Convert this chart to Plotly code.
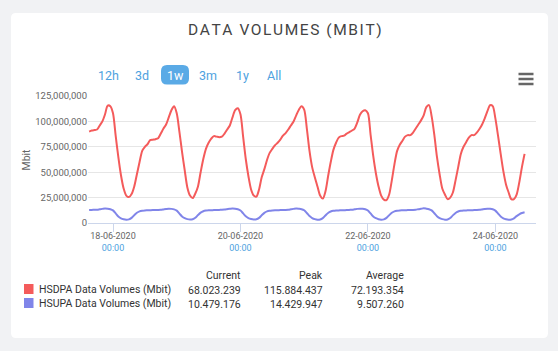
import pandas as pd
import plotly.graph_objects as go

# ---------------- data ----------------
start_time = "2020-06-17 15:00"   # first hourly sample

hsdpa_mbit_millions = [
    # 17-06 15:00-23:00
    90, 91, 91.5, 92, 96, 100, 107, 115.5, 115,
    # 18-06
    108, 86, 65, 47, 34, 27, 25.5, 28.5, 36, 48, 60, 71, 75, 77.5, 81.5, 82, 82.5, 83.5, 88, 93, 97, 104, 111, 115,
    # 19-06
    108, 90, 70, 52, 35, 27, 24.5, 29, 36, 50, 63, 73, 79, 83, 85.5, 85, 84.5, 85, 88, 92, 96, 104, 111, 113,
    # 20-06
    107, 85, 63, 46, 33, 27, 26, 33, 45, 53, 62, 69, 73, 76.5, 79, 82, 86, 88.5, 92, 96, 100, 106, 111.5, 115,
    # 21-06
    111.5, 93, 71, 55, 45, 36, 27, 24, 31, 46, 60, 72, 79, 84, 85.5, 86, 88, 89.5, 91, 93, 99, 106.5, 110, 111,
    # 22-06
    108, 87, 66, 49, 36, 27, 23, 22.5, 28, 42, 58, 71, 77, 81, 85, 86.5, 86.5, 89, 93, 97, 101, 106, 114, 116,
    # 23-06
    105, 87, 65, 48, 34, 28, 23.5, 25, 30, 42, 55, 68, 75, 79.5, 84, 86.5, 86.5, 89, 92.5, 97, 103, 110, 115.884437, 115,
    # 24-06 00:00-11:00
    103, 86, 68, 51, 38, 30, 23.5, 23.5, 28, 40, 55, 68.023239,
]

hsupa_mbit_millions = [
    # 17-06 15:00-23:00
    12.8, 12.9, 13.0, 13.1, 13.5, 13.9, 14.2, 14.0, 13.5,
    # 18-06
    12.4, 9.4, 6.4, 4.6, 3.7, 3.3, 3.6, 5.0, 7.7, 10.1, 11.5, 12.1, 12.4, 12.5, 12.6, 12.7, 12.7, 12.8, 13.0, 13.4, 13.8, 14.1, 13.9, 13.4,
    # 19-06
    12.2, 9.3, 6.5, 4.7, 3.8, 3.4, 3.7, 5.1, 7.8, 10.2, 11.6, 12.2, 12.5, 12.6, 12.7, 12.8, 12.9, 13.0, 13.2, 13.6, 14.0, 14.3, 14.1, 13.5,
    # 20-06
    12.3, 9.5, 6.6, 4.8, 3.9, 3.5, 3.7, 5.0, 7.6, 10.0, 11.4, 12.0, 12.3, 12.5, 12.6, 12.7, 12.8, 12.9, 13.1, 13.5, 13.9, 14.2, 14.0, 13.6,
    # 21-06
    12.5, 9.8, 6.8, 4.9, 3.8, 3.3, 3.5, 4.8, 7.4, 9.9, 11.3, 12.0, 12.3, 12.4, 12.5, 12.6, 12.7, 12.9, 13.1, 13.5, 13.9, 14.1, 14.0, 13.5,
    # 22-06
    12.3, 9.4, 6.5, 4.7, 3.7, 3.3, 3.6, 5.0, 7.7, 10.1, 11.5, 12.1, 12.4, 12.5, 12.6, 12.7, 12.8, 12.9, 13.1, 13.6, 14.0, 14.429947, 14.1, 13.6,
    # 23-06
    12.4, 9.6, 6.7, 4.8, 3.8, 3.3, 3.5, 4.9, 7.5, 9.9, 11.3, 12.0, 12.3, 12.4, 12.5, 12.6, 12.7, 12.8, 13.0, 13.4, 13.8, 14.1, 14.0, 13.5,
    # 24-06 00:00-11:00
    12.2, 9.3, 6.4, 4.6, 3.6, 3.2, 3.4, 4.6, 6.8, 8.6, 9.8, 10.479176,
]

series_names = ["HSDPA Data Volumes (Mbit)", "HSUPA Data Volumes (Mbit)"]
series_colors = ["#f45b5b", "#8085e9"]
table_headers = ["Current", "Peak", "Average"]
table_current = ["68.023.239", "10.479.176"]
table_peak = ["115.884.437", "14.429.947"]
table_average = ["72.193.354", "9.507.260"]

range_buttons = ["12h", "3d", "1w", "3m", "1y", "All"]
active_button = "1w"

x_tick_dates = ["2020-06-18", "2020-06-20", "2020-06-22", "2020-06-24"]
x_tick_day_labels = ["18-06-2020", "20-06-2020", "22-06-2020", "24-06-2020"]
x_tick_time_labels = ["00:00", "00:00", "00:00", "00:00"]
x_range = ["2020-06-17 14:35", "2020-06-24 15:18"]
y_ticks = [0, 25e6, 50e6, 75e6, 100e6, 125e6]

# ---------------- geometry helpers ----------------
W, H = 558, 351
ML, MR, MT, MB = 88, 22, 96, 128
PW, PH = W - ML - MR, H - MT - MB


def px(x):
    return (x - ML) / PW


def py(y):
    return (H - MB - y) / PH


def rounded_rect_path(x0, y0, x1, y1, r):
    rx, ry = r / PW, r / PH
    X0, X1 = px(x0), px(x1)
    Y0, Y1 = py(y0), py(y1)  # Y0 top (larger), Y1 bottom
    return (f"M {X0+rx},{Y0} L {X1-rx},{Y0} Q {X1},{Y0} {X1},{Y0-ry} "
            f"L {X1},{Y1+ry} Q {X1},{Y1} {X1-rx},{Y1} L {X0+rx},{Y1} "
            f"Q {X0},{Y1} {X0},{Y1+ry} L {X0},{Y0-ry} Q {X0},{Y0} {X0+rx},{Y0} Z")


times = pd.date_range(start_time, periods=len(hsdpa_mbit_millions), freq="h")

fig = go.Figure()
for name, color, vals in zip(series_names, series_colors,
                             [hsdpa_mbit_millions, hsupa_mbit_millions]):
    fig.add_trace(go.Scatter(
        x=times, y=[v * 1e6 for v in vals], name=name, mode="lines",
        line=dict(color=color, width=2, shape="spline", smoothing=0.8),
        showlegend=False, hoverinfo="skip",
    ))

FONT = "Roboto, 'Open Sans', sans-serif"
shapes = []
annotations = []

# card
shapes.append(dict(type="path", xref="paper", yref="paper",
                   path=rounded_rect_path(11, 13, 548, 338, 5),
                   fillcolor="white", line=dict(width=0), layer="below"))

# title
annotations.append(dict(text="\u200a".join("DATA VOLUMES (MBIT)"),
                        x=px(285), y=py(30), xref="paper", yref="paper",
                        showarrow=False, xanchor="center", yanchor="middle",
                        font=dict(family=FONT, size=15.5, color="#444444")))

# range selector look-alike buttons
button_x = [108, 142, 175, 208, 242, 274]
for label, bx in zip(range_buttons, button_x):
    active = label == active_button
    if active:
        shapes.append(dict(type="path", xref="paper", yref="paper",
                           path=rounded_rect_path(161, 65, 189, 84.5, 6),
                           fillcolor="#5aaae6", line=dict(width=0)))
    annotations.append(dict(text=label, x=px(bx), y=py(75), xref="paper", yref="paper",
                            showarrow=False, xanchor="center", yanchor="middle",
                            font=dict(family=FONT, size=12.5,
                                      color="white" if active else "#4ea2e0")))

# hamburger menu icon
for yy in [74, 79, 84]:
    shapes.append(dict(type="line", xref="paper", yref="paper",
                       x0=px(518.5), x1=px(533.5), y0=py(yy), y1=py(yy),
                       line=dict(color="#666666", width=2.5)))

# y-axis title
annotations.append(dict(text="Mbit", x=px(26), y=py(159.5), xref="paper", yref="paper",
                        showarrow=False, textangle=-90, xanchor="center", yanchor="middle",
                        font=dict(family=FONT, size=10.5, color="#666666")))

# legend / stats table
col_right = [243, 325, 406]
for hdr, cx in zip(table_headers, col_right):
    annotations.append(dict(text=hdr, x=px(cx), y=py(275.7), xref="paper", yref="paper",
                            showarrow=False, xanchor="right", yanchor="middle",
                            font=dict(family=FONT, size=10.5, color="#333333")))
row_y = [289, 303]
for i, (name, color) in enumerate(zip(series_names, series_colors)):
    ry = row_y[i]
    shapes.append(dict(type="rect", xref="paper", yref="paper",
                       x0=px(24), x1=px(33.5), y0=py(ry - 5), y1=py(ry + 5),
                       fillcolor=color, line=dict(width=0)))
    annotations.append(dict(text=name, x=px(37), y=py(ry), xref="paper", yref="paper",
                            showarrow=False, xanchor="left", yanchor="middle",
                            font=dict(family=FONT, size=10.5, color="#333333")))
    for vals, cx in zip([table_current, table_peak, table_average], col_right):
        annotations.append(dict(text=vals[i], x=px(cx), y=py(ry + 1), xref="paper", yref="paper",
                                showarrow=False, xanchor="right", yanchor="middle",
                                font=dict(family=FONT, size=10.5, color="#333333")))

ticktext = [f"{d}<br><span style='color:#4ea2e0'>{t}</span>"
            for d, t in zip(x_tick_day_labels, x_tick_time_labels)]

fig.update_layout(
    width=W, height=H,
    margin=dict(l=ML, r=MR, t=MT, b=MB, pad=0),
    paper_bgcolor="#f1f2f4",
    plot_bgcolor="rgba(0,0,0,0)",
    font=dict(family=FONT, color="#666666"),
    shapes=shapes,
    annotations=annotations,
    showlegend=False,
    xaxis=dict(
        type="date", range=x_range,
        tickmode="array", tickvals=x_tick_dates, ticktext=ticktext,
        ticks="outside", ticklen=8, tickwidth=1, tickcolor="#ccd6eb",
        showline=True, linecolor="#ccd6eb", linewidth=1,
        showgrid=False, zeroline=False,
        ticklabelstandoff=-4,
        tickfont=dict(family=FONT, size=9, color="#666666"),
    ),
    yaxis=dict(
        range=[0, 125e6], tickmode="array", tickvals=y_ticks,
        tickformat=",d", showgrid=True, gridcolor="#e6e6e6", gridwidth=1,
        zeroline=False, showline=False, ticks="",
        ticklabelstandoff=0,
        tickfont=dict(family=FONT, size=9.5, color="#666666"),
    ),
)

fig.write_html("out.html")
